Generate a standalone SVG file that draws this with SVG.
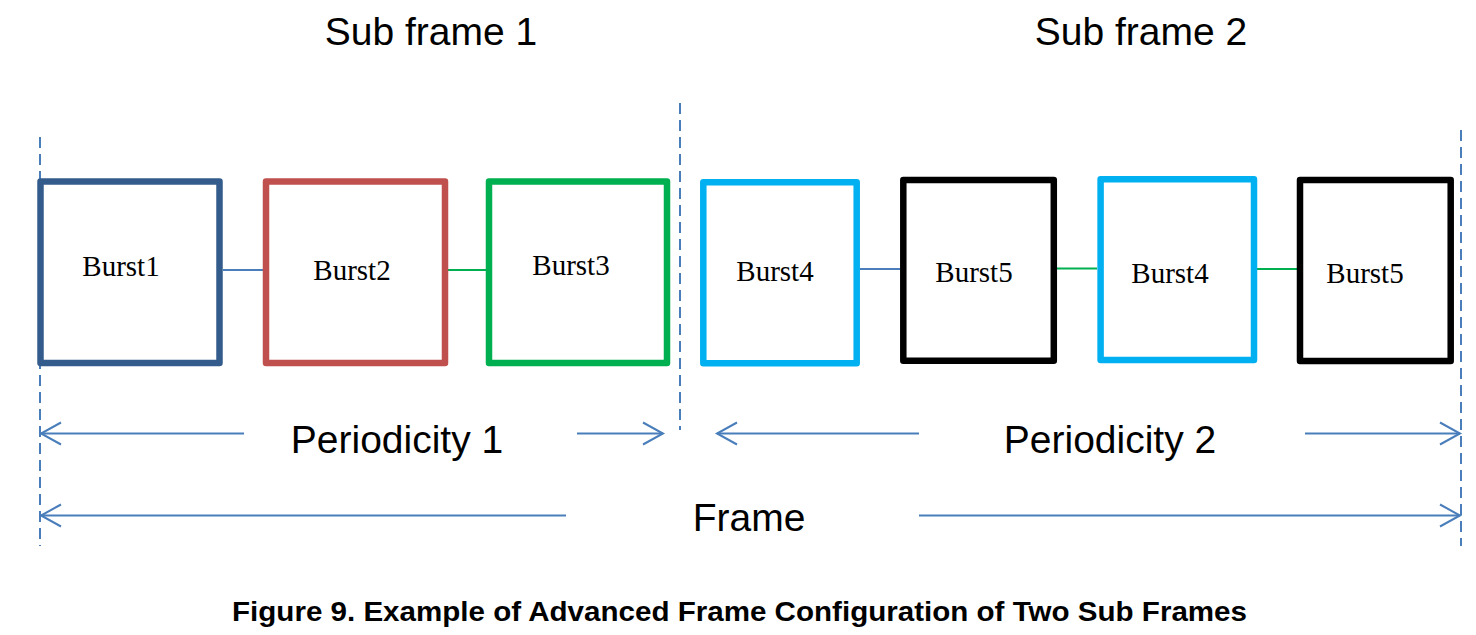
<svg xmlns="http://www.w3.org/2000/svg" width="1476" height="635" viewBox="0 0 1476 635">
<defs>
<style>
.box{fill:#fff;stroke-width:6.5;stroke-linejoin:round}
.lbl{font-family:"Liberation Serif","Times New Roman",serif;font-size:29px;fill:#000;text-anchor:middle}
.big{font-family:"Liberation Sans",Arial,sans-serif;font-size:39px;fill:#000;text-anchor:middle}
.cap{font-family:"Liberation Sans",Arial,sans-serif;font-size:27px;font-weight:bold;fill:#000;text-anchor:middle}
.dash{stroke:#4A7EBB;stroke-width:2;stroke-dasharray:11,6;fill:none}
.arr{stroke:#4A7EBB;stroke-width:2;fill:none}
.head{stroke:#4A7EBB;stroke-width:2;fill:none;stroke-linejoin:miter}
.cb{stroke:#4A7EBB;stroke-width:2}
.cg{stroke:#00B050;stroke-width:2}
</style>
</defs>
<rect width="1476" height="635" fill="#fff"/>

<g id="guides">
<line class="dash" x1="40" y1="137" x2="40" y2="546"/>
<line class="dash" x1="680" y1="103" x2="680" y2="430"/>
<line class="dash" x1="1461" y1="130" x2="1461" y2="546"/>
</g>

<g id="connectors">
<line class="cb" x1="223" y1="270" x2="263" y2="270"/>
<line class="cg" x1="448" y1="270" x2="486" y2="270"/>
<line class="cb" x1="860" y1="269" x2="900" y2="269"/>
<line class="cg" x1="1057" y1="268.5" x2="1097" y2="268.5"/>
<line class="cg" x1="1257" y1="269" x2="1297" y2="269"/>
</g>

<g id="burst1">
<rect class="box" x="40.5" y="181.5" width="179" height="181.5" stroke="#335C8C"/>
<text class="lbl" x="121" y="276">Burst1</text>
</g>
<g id="burst2">
<rect class="box" x="266" y="181.5" width="179" height="181.5" stroke="#C0504D"/>
<text class="lbl" x="352" y="280">Burst2</text>
</g>
<g id="burst3">
<rect class="box" x="489" y="181.5" width="178" height="181.5" stroke="#00B050"/>
<text class="lbl" x="571" y="275">Burst3</text>
</g>
<g id="burst4a">
<rect class="box" x="703.3" y="182.3" width="153.4" height="181" stroke="#00B0F0"/>
<text class="lbl" x="775" y="281">Burst4</text>
</g>
<g id="burst5a">
<rect class="box" x="903.3" y="180" width="150.5" height="180.7" stroke="#000"/>
<text class="lbl" x="974" y="281.5">Burst5</text>
</g>
<g id="burst4b">
<rect class="box" x="1100.6" y="179.3" width="153.4" height="180.7" stroke="#00B0F0"/>
<text class="lbl" x="1170" y="283">Burst4</text>
</g>
<g id="burst5b">
<rect class="box" x="1300" y="180" width="150.7" height="181" stroke="#000"/>
<text class="lbl" x="1365" y="283">Burst5</text>
</g>

<g id="titles">
<text class="big" x="431" y="45">Sub frame 1</text>
<text class="big" x="1141" y="45">Sub frame 2</text>
</g>

<g id="periodicity1">
<line class="arr" x1="41" y1="433.5" x2="244" y2="433.5"/>
<polyline class="head" points="61,422.5 41,433.5 61,444.5"/>
<line class="arr" x1="577" y1="433.5" x2="663" y2="433.5"/>
<polyline class="head" points="643,422.5 663,433.5 643,444.5"/>
<text class="big" x="397" y="453">Periodicity 1</text>
</g>

<g id="periodicity2">
<line class="arr" x1="717" y1="433.5" x2="919" y2="433.5"/>
<polyline class="head" points="737,422.5 717,433.5 737,444.5"/>
<line class="arr" x1="1305" y1="433.5" x2="1460" y2="433.5"/>
<polyline class="head" points="1440,422.5 1460,433.5 1440,444.5"/>
<text class="big" x="1110" y="453">Periodicity 2</text>
</g>

<g id="frame">
<line class="arr" x1="41" y1="515.5" x2="566" y2="515.5"/>
<polyline class="head" points="61,504.5 41,515.5 61,526.5"/>
<line class="arr" x1="919" y1="515.5" x2="1460" y2="515.5"/>
<polyline class="head" points="1440,504.5 1460,515.5 1440,526.5"/>
<text class="big" x="749" y="531">Frame</text>
</g>

<g id="caption">
<text class="cap" x="739.5" y="621" textLength="1015" lengthAdjust="spacingAndGlyphs">Figure 9. Example of Advanced Frame Configuration of Two Sub Frames</text>
</g>
</svg>
